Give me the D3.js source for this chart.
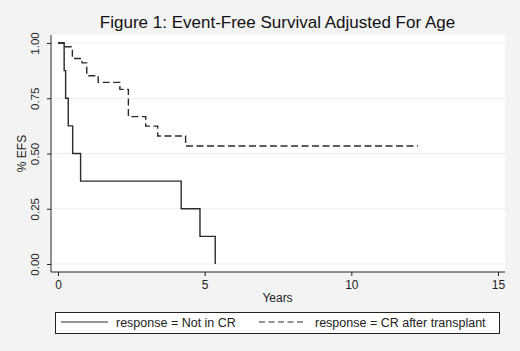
<!DOCTYPE html>
<html>
<head>
<meta charset="utf-8">
<script src="https://cdn.jsdelivr.net/npm/d3@7"></script>
<style>
  body { margin: 0; background: #f3f3f3; }
  svg { display: block; font-family: "Liberation Sans", Arial, sans-serif; }
</style>
</head>
<body>
<div id="chart"></div>
<script>
// Kaplan-Meier step data (years, survival)
const notCrTimes = [0, 0.21, 0.26, 0.35, 0.50, 0.77, 4.20, 4.84, 5.36];
const notCrSurv  = [1, 0.875, 0.75, 0.625, 0.5, 0.375, 0.25, 0.125, 0];

const crTimes = [0, 0.20, 0.49, 0.82, 0.98, 1.37, 2.11, 2.40, 2.99, 3.40, 4.35, 12.27];
const crSurv  = [1, 0.983, 0.93, 0.91, 0.852, 0.822, 0.79, 0.667, 0.624, 0.579, 0.534, 0.534];

const yTicks = [0, 0.25, 0.5, 0.75, 1];
const xTicks = [0, 5, 10, 15];
const legendLabels = ["response = Not in CR", "response = CR after transplant"];

const W = 520, H = 351;
const plot = {left: 50, right: 505, top: 35, bottom: 272};

const svg = d3.select("#chart").append("svg")
    .attr("width", W)
    .attr("height", H);

svg.append("rect").attr("width", W).attr("height", H).attr("fill", "#f3f3f3");

// plot region
svg.append("rect")
    .attr("x", plot.left).attr("y", plot.top)
    .attr("width", plot.right - plot.left)
    .attr("height", plot.bottom - plot.top)
    .attr("fill", "#fff");

const x = d3.scaleLinear().domain([0, 15]).range([58, 498]);
const y = d3.scaleLinear().domain([0, 1]).range([264, 43]);

// gridlines
svg.append("g").selectAll("line").data(yTicks).join("line")
    .attr("x1", plot.left + 1).attr("x2", plot.right)
    .attr("y1", d => y(d)).attr("y2", d => y(d))
    .attr("stroke", "#ececec").attr("stroke-width", 1);

// y axis
const yAxis = svg.append("g")
    .attr("transform", `translate(${plot.left + 1},0)`)
    .call(d3.axisLeft(y).tickValues(yTicks).tickFormat(d3.format(".2f")).tickSize(4).tickPadding(5));
yAxis.select(".domain").remove();
yAxis.append("line").attr("y1", plot.top).attr("y2", plot.bottom).attr("stroke", "#222");
yAxis.selectAll(".tick line").attr("stroke", "#222");
yAxis.selectAll(".tick text")
    .attr("x", null).attr("dy", null)
    .attr("transform", "translate(-12,0) rotate(-90)")
    .attr("text-anchor", "middle")
    .attr("font-size", 11.5)
    .attr("fill", "#222")
    .attr("font-family", "Liberation Sans, Arial, sans-serif");

// x axis
const xAxis = svg.append("g")
    .attr("transform", `translate(0,${plot.bottom})`)
    .call(d3.axisBottom(x).tickValues(xTicks).tickSize(4).tickPadding(4));
xAxis.select(".domain").remove();
xAxis.append("line").attr("x1", plot.left + 1).attr("x2", plot.right).attr("stroke", "#222");
xAxis.selectAll(".tick line").attr("stroke", "#222");
xAxis.selectAll(".tick text")
    .attr("font-size", 12)
    .attr("fill", "#222")
    .attr("font-family", "Liberation Sans, Arial, sans-serif");

// axis titles
svg.append("text")
    .attr("transform", `translate(26,${(y(0) + y(1)) / 2}) rotate(-90)`)
    .attr("text-anchor", "middle")
    .attr("font-size", 12)
    .attr("fill", "#222")
    .text("% EFS");

svg.append("text")
    .attr("x", (plot.left + plot.right) / 2)
    .attr("y", 302)
    .attr("text-anchor", "middle")
    .attr("font-size", 12)
    .attr("fill", "#222")
    .text("Years");

// title
svg.append("text")
    .attr("x", (plot.left + plot.right) / 2)
    .attr("y", 28)
    .attr("text-anchor", "middle")
    .attr("font-size", 17)
    .attr("fill", "#111")
    .text("Figure 1: Event-Free Survival Adjusted For Age");

// curves
const line = d3.line()
    .x(d => x(d[0]))
    .y(d => y(d[1]))
    .curve(d3.curveStepAfter);

svg.append("path")
    .datum(d3.zip(notCrTimes, notCrSurv))
    .attr("d", line)
    .attr("fill", "none")
    .attr("stroke", "#2a2a2a")
    .attr("stroke-width", 1.4);

svg.append("path")
    .datum(d3.zip(crTimes, crSurv))
    .attr("d", line)
    .attr("fill", "none")
    .attr("stroke", "#2a2a2a")
    .attr("stroke-width", 1.4)
    .attr("stroke-dasharray", "7,3.5");

// legend
const legend = svg.append("g");
legend.append("rect")
    .attr("x", 55.5).attr("y", 312.5)
    .attr("width", 444).attr("height", 21)
    .attr("fill", "#fff")
    .attr("stroke", "#222")
    .attr("stroke-width", 1);

legend.append("line")
    .attr("x1", 61).attr("x2", 108).attr("y1", 322).attr("y2", 322)
    .attr("stroke", "#2a2a2a").attr("stroke-width", 1.2);
legend.append("text")
    .attr("x", 116).attr("y", 327)
    .attr("font-size", 12.5).attr("fill", "#222")
    .text(legendLabels[0]);

legend.append("line")
    .attr("x1", 259).attr("x2", 304).attr("y1", 322).attr("y2", 322)
    .attr("stroke", "#2a2a2a").attr("stroke-width", 1.2)
    .attr("stroke-dasharray", "6,3.5");
legend.append("text")
    .attr("x", 315).attr("y", 327)
    .attr("font-size", 12.5).attr("fill", "#222")
    .text(legendLabels[1]);
</script>
</body>
</html>
